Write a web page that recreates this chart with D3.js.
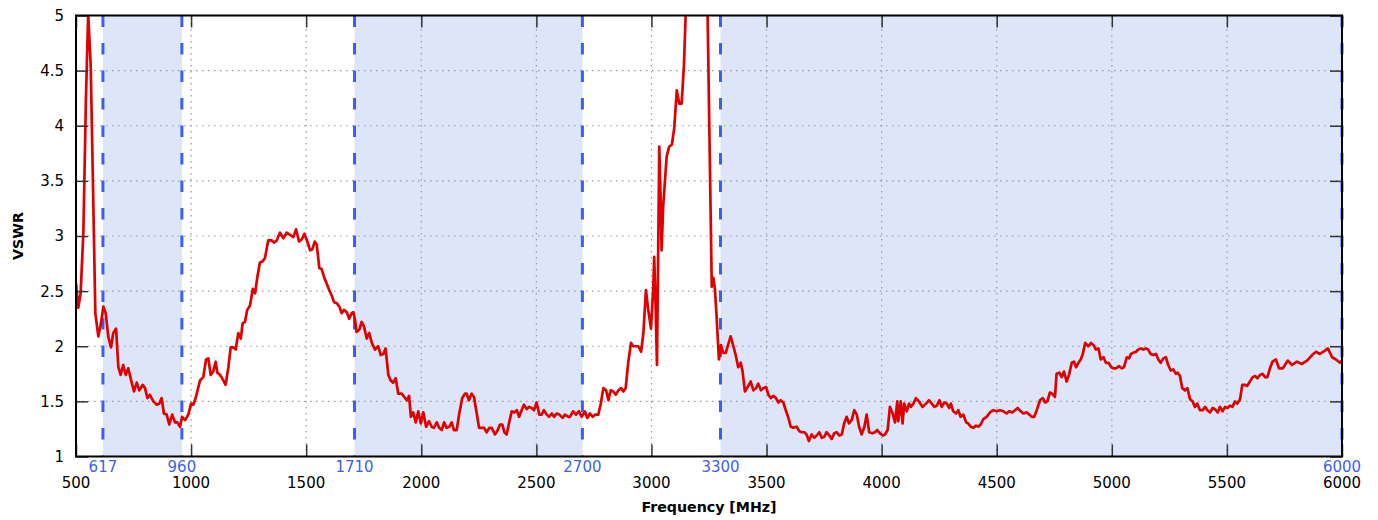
<!DOCTYPE html>
<html><head><meta charset="utf-8">
<script src="https://cdn.jsdelivr.net/npm/d3@7"></script>
<style>html,body{margin:0;padding:0;background:#fff;}svg{display:block;}</style>
</head><body>
<svg id="chart" width="1378" height="520"></svg>
<script>
const freqMHz = [
500,510,520,532,543,553,564,575,584,597,
607,619,629,640,652,662,674,684,694,705,
716,727,742,752,764,775,790,800,810,821,
836,851,862,872,882,894,905,918,930,940,
952,961,974,988,1000,1010,1021,1039,1053,1065,
1075,1085,1096,1107,1114,1126,1140,1150,1162,1172,
1183,1194,1205,1216,1224,1234,1244,1256,1268,1278,
1288,1299,1311,1321,1335,1350,1362,1372,1386,1401,
1415,1430,1444,1456,1469,1481,1492,1505,1517,1527,
1537,1546,1557,1567,1579,1589,1600,1611,1621,1633,
1644,1654,1664,1676,1687,1698,1705,1712,1719,1731,
1741,1751,1763,1774,1785,1799,1813,1824,1835,1845,
1857,1867,1878,1889,1900,1915,1926,1937,1947,1955,
1965,1976,1987,1998,2009,2021,2034,2045,2055,2067,
2078,2089,2099,2110,2122,2132,2142,2154,2165,2178,
2190,2197,2207,2219,2229,2241,2251,2263,2273,2284,
2296,2306,2320,2330,2342,2352,2361,2371,2382,2393,
2404,2415,2425,2436,2446,2458,2469,2480,2490,2501,
2513,2523,2533,2545,2555,2567,2577,2588,2600,2614,
2624,2639,2646,2660,2672,2685,2697,2711,2721,2733,
2745,2755,2769,2780,2791,2803,2813,2823,2834,2845,
2856,2868,2878,2888,2899,2911,2921,2933,2943,2955,
2965,2976,2986,2998,3008,3012,3018,3024,3030,3034,
3040,3044,3051,3066,3077,3089,3099,3110,3121,3131,
3141,3198,3244,3262,3269,3276,3283,3293,3302,3312,
3323,3331,3344,3356,3367,3377,3388,3396,3406,3418,
3431,3443,3454,3464,3476,3486,3498,3508,3519,3529,
3541,3551,3561,3573,3585,3595,3605,3616,3631,3642,
3653,3664,3674,3684,3696,3707,3718,3729,3740,3751,
3761,3773,3783,3794,3805,3816,3827,3837,3848,3858,
3870,3881,3892,3902,3913,3925,3935,3946,3959,3971,
3981,3993,4005,4015,4026,4036,4048,4058,4068,4072,
4083,4091,4098,4109,4119,4127,4138,4149,4162,4178,
4193,4206,4218,4229,4239,4251,4261,4272,4283,4293,
4301,4311,4323,4333,4343,4355,4367,4376,4387,4398,
4410,4420,4430,4442,4456,4471,4485,4500,4514,4529,
4543,4554,4568,4579,4591,4604,4616,4630,4642,4652,
4663,4674,4688,4700,4710,4720,4731,4741,4753,4760,
4772,4782,4792,4804,4814,4826,4836,4845,4855,4865,
4874,4884,4898,4910,4921,4931,4942,4952,4964,4974,
4986,4997,5007,5019,5031,5043,5053,5065,5075,5083,
5093,5105,5115,5127,5137,5147,5158,5169,5180,5192,
5202,5212,5224,5235,5245,5256,5267,5278,5286,5296,
5306,5318,5328,5340,5351,5361,5371,5383,5395,5405,
5415,5427,5438,5448,5460,5470,5481,5492,5503,5513,
5524,5535,5545,5557,5567,5578,5588,5600,5612,5622,
5633,5644,5655,5666,5676,5687,5698,5713,5726,5743,
5765,5783,5804,5826,5848,5870,5887,5904,5926,5939,
5957,5974,5991,6000
];
const vswr = [
2.57,2.35,2.48,3.03,4.23,5.02,4.54,3.33,2.30,2.09,
2.19,2.36,2.30,2.09,1.99,2.12,2.16,1.81,1.74,1.83,
1.74,1.80,1.67,1.59,1.67,1.60,1.65,1.62,1.53,1.56,
1.50,1.47,1.48,1.53,1.39,1.38,1.29,1.38,1.31,1.31,
1.27,1.36,1.33,1.38,1.48,1.47,1.54,1.69,1.72,1.88,
1.89,1.74,1.77,1.86,1.76,1.74,1.69,1.65,1.81,1.99,
1.99,1.97,2.12,2.07,2.21,2.22,2.33,2.37,2.52,2.48,
2.63,2.76,2.77,2.80,2.96,2.96,2.94,2.96,3.03,2.98,
3.03,3.01,2.99,3.06,2.95,2.97,3.02,2.95,2.87,2.88,
2.95,2.92,2.71,2.70,2.62,2.57,2.51,2.46,2.40,2.39,
2.36,2.30,2.33,2.31,2.25,2.30,2.31,2.24,2.13,2.15,
2.22,2.18,2.07,2.12,2.03,1.97,2.00,1.92,1.93,1.98,
1.74,1.69,1.67,1.71,1.57,1.57,1.54,1.51,1.55,1.36,
1.40,1.31,1.41,1.30,1.40,1.27,1.32,1.27,1.26,1.31,
1.26,1.24,1.31,1.26,1.27,1.31,1.24,1.24,1.39,1.53,
1.57,1.57,1.51,1.57,1.54,1.39,1.26,1.26,1.26,1.22,
1.26,1.26,1.20,1.23,1.29,1.29,1.22,1.20,1.31,1.41,
1.40,1.42,1.36,1.42,1.47,1.43,1.45,1.44,1.42,1.49,
1.38,1.38,1.42,1.38,1.36,1.39,1.36,1.39,1.38,1.35,
1.38,1.36,1.36,1.41,1.38,1.41,1.36,1.41,1.35,1.39,
1.36,1.38,1.38,1.48,1.62,1.60,1.51,1.60,1.59,1.56,
1.60,1.62,1.59,1.62,1.85,2.03,2.00,2.00,2.00,1.95,
2.12,2.51,2.33,2.16,2.54,2.81,2.36,1.83,3.02,3.81,
3.33,2.87,3.27,3.72,3.81,3.83,3.98,4.32,4.20,4.20,
4.54,8.00,5.00,2.54,2.62,2.51,2.27,1.88,2.01,1.94,
1.94,2.00,2.09,2.00,1.91,1.81,1.85,1.77,1.59,1.63,
1.68,1.60,1.62,1.66,1.60,1.62,1.63,1.56,1.53,1.55,
1.53,1.49,1.51,1.49,1.41,1.35,1.27,1.26,1.27,1.23,
1.22,1.22,1.20,1.14,1.20,1.17,1.19,1.22,1.17,1.18,
1.22,1.19,1.16,1.21,1.22,1.19,1.20,1.30,1.36,1.30,
1.33,1.42,1.38,1.27,1.20,1.27,1.38,1.22,1.21,1.22,
1.24,1.21,1.19,1.20,1.24,1.45,1.39,1.31,1.50,1.32,
1.50,1.30,1.48,1.41,1.48,1.45,1.48,1.53,1.50,1.45,
1.48,1.51,1.48,1.45,1.46,1.51,1.45,1.49,1.48,1.44,
1.48,1.41,1.39,1.42,1.36,1.38,1.31,1.30,1.27,1.26,
1.28,1.27,1.29,1.34,1.36,1.40,1.42,1.41,1.42,1.41,
1.39,1.41,1.40,1.42,1.44,1.41,1.39,1.40,1.38,1.36,
1.36,1.42,1.51,1.53,1.49,1.50,1.58,1.57,1.54,1.75,
1.76,1.72,1.77,1.68,1.74,1.85,1.86,1.81,1.85,1.88,
1.93,2.03,2.00,2.03,2.01,1.97,1.98,1.88,1.90,1.85,
1.85,1.81,1.80,1.80,1.82,1.80,1.81,1.90,1.89,1.93,
1.94,1.95,1.97,1.98,1.97,1.98,1.97,1.93,1.92,1.93,
1.88,1.85,1.89,1.90,1.83,1.78,1.79,1.75,1.76,1.73,
1.62,1.60,1.62,1.52,1.50,1.45,1.48,1.42,1.42,1.45,
1.42,1.40,1.44,1.43,1.40,1.45,1.41,1.45,1.44,1.46,
1.45,1.50,1.48,1.52,1.65,1.65,1.64,1.68,1.72,1.73,
1.71,1.74,1.75,1.72,1.72,1.80,1.86,1.88,1.80,1.80,
1.87,1.83,1.86,1.84,1.87,1.92,1.95,1.93,1.96,1.98,
1.90,1.88,1.85,1.87
];
const bandRanges = [[617, 960], [1710, 2700], [3300, 6000]];
const bandEdgeLabels = [617, 960, 1710, 2700, 3300, 6000];
const xTickValues = [500, 1000, 1500, 2000, 2500, 3000, 3500, 4000, 4500, 5000, 5500, 6000];
const yTickValues = [1, 1.5, 2, 2.5, 3, 3.5, 4, 4.5, 5];
const xTitle = "Frequency [MHz]";
const yTitle = "VSWR";

const W = 1378, H = 520;
const margin = {left: 76, right: 36, top: 15.5, bottom: 63.5};
const svg = d3.select("#chart");
const x = d3.scaleLinear().domain([500, 6000]).range([margin.left, W - margin.right]);
const y = d3.scaleLinear().domain([1, 5]).range([H - margin.bottom, margin.top]);
const FONT = "'DejaVu Sans', sans-serif";
const blue = "#3d5ff0";

svg.append("defs").append("clipPath").attr("id", "plotclip")
  .append("rect").attr("x", x(500)).attr("y", y(5)).attr("width", x(6000) - x(500)).attr("height", y(1) - y(5));

// bands
svg.append("g").selectAll("rect").data(bandRanges).join("rect")
  .attr("x", d => x(d[0])).attr("y", y(5))
  .attr("width", d => x(d[1]) - x(d[0])).attr("height", y(1) - y(5))
  .attr("fill", "#dde5f8");

// grid
const grid = svg.append("g").attr("stroke", "#9a9a9a").attr("stroke-width", 1.2).attr("stroke-dasharray", "1.5,4.5");
grid.selectAll("line.gy").data(yTickValues.slice(1, -1)).join("line")
  .attr("x1", x(500)).attr("x2", x(6000)).attr("y1", d => y(d)).attr("y2", d => y(d));
grid.selectAll("line.gx").data(xTickValues.slice(1, -1)).join("line")
  .attr("y1", y(1)).attr("y2", y(5)).attr("x1", d => x(d)).attr("x2", d => x(d));

// band edges dashed
svg.append("g").selectAll("line").data(bandEdgeLabels).join("line")
  .attr("x1", d => x(d)).attr("x2", d => x(d)).attr("y1", y(5)).attr("y2", y(1))
  .attr("stroke", blue).attr("stroke-width", 3).attr("stroke-dasharray", "11.5,16");

// curve
const data = freqMHz.map((f, i) => [f, vswr[i]]);
svg.append("path").datum(data)
  .attr("clip-path", "url(#plotclip)")
  .attr("fill", "none").attr("stroke", "#e00000").attr("stroke-width", 2.7)
  .attr("stroke-linejoin", "round")
  .attr("d", d3.line().x(d => x(d[0])).y(d => y(d[1])));

// axes with inward ticks (mirrored)
const tickLen = 12;
const axB = svg.append("g").attr("transform", `translate(0,${y(1)})`)
  .call(d3.axisBottom(x).tickValues(xTickValues).tickSize(-tickLen).tickFormat(""));
const axT = svg.append("g").attr("transform", `translate(0,${y(5)})`)
  .call(d3.axisTop(x).tickValues(xTickValues).tickSize(-tickLen).tickFormat(""));
const axL = svg.append("g").attr("transform", `translate(${x(500)},0)`)
  .call(d3.axisLeft(y).tickValues(yTickValues).tickSize(-tickLen).tickFormat(""));
const axR = svg.append("g").attr("transform", `translate(${x(6000)},0)`)
  .call(d3.axisRight(y).tickValues(yTickValues).tickSize(-tickLen).tickFormat(""));
[axB, axT, axL, axR].forEach(g => {
  g.select(".domain").remove();
  g.selectAll(".tick line").attr("stroke", "#333").attr("stroke-width", 1.5);
});

// frame
svg.append("rect").attr("x", x(500)).attr("y", y(5))
  .attr("width", x(6000) - x(500)).attr("height", y(1) - y(5))
  .attr("fill", "none").attr("stroke", "#000").attr("stroke-width", 2);

// tick labels
svg.append("g").selectAll("text").data(yTickValues).join("text")
  .attr("x", 64).attr("y", d => y(d) + 5.4).attr("text-anchor", "end")
  .attr("font-family", FONT).attr("font-size", 15).attr("fill", "#000")
  .text(d => d3.format("~g")(d));
svg.append("g").selectAll("text").data(xTickValues).join("text")
  .attr("x", d => x(d)).attr("y", 487.5).attr("text-anchor", "middle")
  .attr("font-family", FONT).attr("font-size", 15).attr("fill", "#000")
  .text(d => d);
svg.append("g").selectAll("text").data(bandEdgeLabels).join("text")
  .attr("x", d => x(d)).attr("y", 472).attr("text-anchor", "middle")
  .attr("font-family", FONT).attr("font-size", 15).attr("fill", blue)
  .text(d => d);

// titles
svg.append("text").attr("x", (x(500) + x(6000)) / 2).attr("y", 511.5)
  .attr("text-anchor", "middle").attr("font-family", FONT).attr("font-size", 14.2)
  .attr("font-weight", "bold").text(xTitle);
svg.append("text").attr("transform", `translate(23,${(y(1) + y(5)) / 2}) rotate(-90)`)
  .attr("text-anchor", "middle").attr("font-family", FONT).attr("font-size", 14.2)
  .attr("font-weight", "bold").text(yTitle);
</script>
</body></html>
